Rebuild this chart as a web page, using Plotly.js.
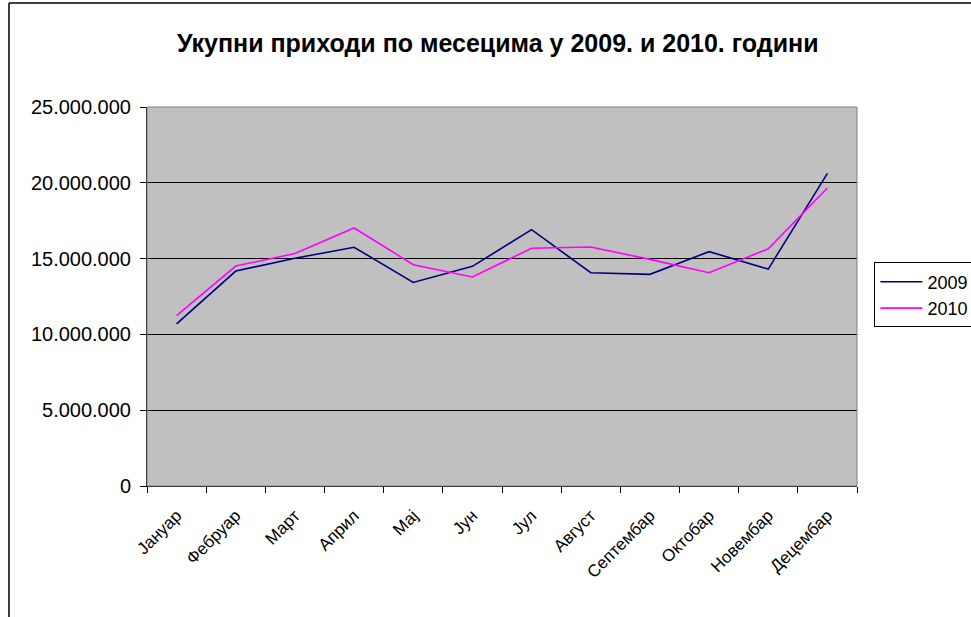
<!DOCTYPE html>
<html>
<head>
<meta charset="utf-8">
<script src="https://cdn.plot.ly/plotly-3.0.1.min.js"></script>
<style>html,body{margin:0;padding:0;background:#fff;}#chart{width:971px;height:617px;}</style>
</head>
<body>
<div id="chart"></div>
<script>
const months = ["Јануар","Фебруар","Март","Април","Мај","Јун","Јул","Август","Септембар","Октобар","Новембар","Децембар"];
const values2009 = [10690000,14180000,15020000,15750000,13430000,14490000,16910000,14070000,13960000,15460000,14310000,20620000];
const values2010 = [11240000,14510000,15330000,17020000,14600000,13790000,15680000,15770000,14950000,14070000,15650000,19660000];
const seriesNames = ["2009","2010"];
const yTicks = [0,5000000,10000000,15000000,20000000,25000000];

const traces = [
  {x: months, y: values2009, name: seriesNames[0], type: 'scatter', mode: 'lines',
   line: {color: '#000080', width: 1.6}},
  {x: months, y: values2010, name: seriesNames[1], type: 'scatter', mode: 'lines',
   line: {color: '#ff00ff', width: 1.6}}
];

const layout = {
  width: 971, height: 617,
  margin: {l: 147, r: 114, t: 107, b: 131, pad: 0, autoexpand: false},
  paper_bgcolor: '#ffffff',
  plot_bgcolor: '#c0c0c0',
  separators: ',.',
  font: {family: 'Arial, "Liberation Sans", sans-serif', color: '#000', size: 15},
  title: {text: 'Укупни приходи по месецима у 2009. и 2010. години',
          font: {family: 'Arial, "Liberation Sans", sans-serif', size: 25, weight: 'bold', color: '#000'},
          x: 0.494, xanchor: 'center', y: 0.93, yanchor: 'middle', xref: 'paper'},
  xaxis: {
    type: 'category', tickson: 'boundaries', ticks: 'outside', ticklen: 6, tickcolor: '#000',
    showgrid: false, showline: true, linecolor: '#000', linewidth: 1,
    tickangle: -45, tickfont: {size: 17}, ticklabelstandoff: 12, zeroline: false, range: [-0.5, 11.5],
    automargin: false
  },
  yaxis: {
    range: [0, 25000000], tickvals: yTicks, tickformat: ',d', ticks: 'outside', ticklen: 6,
    tickcolor: '#000', showgrid: true, gridcolor: '#000', gridwidth: 1,
    showline: true, linecolor: '#000', linewidth: 1, zeroline: false,
    tickfont: {size: 20}, ticklabelstandoff: 5, automargin: false
  },
  showlegend: true,
  legend: {x: 1.0245, xanchor: 'left', y: 0.504, yanchor: 'middle',
           bordercolor: '#000', borderwidth: 1, bgcolor: '#fff',
           font: {size: 18}, itemwidth: 42, tracegroupgap: 0},
  shapes: [
    {type: 'rect', xref: 'paper', yref: 'paper', x0: 0, x1: 1, y0: 0, y1: 1,
     line: {color: '#808080', width: 1}, fillcolor: 'rgba(0,0,0,0)', layer: 'above'},
    {type: 'line', xref: 'paper', yref: 'paper', x0: -0.1944, x1: 1.17, y0: 1.2744, y1: 1.2744,
     line: {color: '#000', width: 1.5}},
    {type: 'line', xref: 'paper', yref: 'paper', x0: -0.1944, x1: -0.1944, y0: 1.2744, y1: -0.36,
     line: {color: '#000', width: 1.5}}
  ]
};

Plotly.newPlot('chart', traces, layout, {displayModeBar: false, staticPlot: true});
</script>
</body>
</html>
